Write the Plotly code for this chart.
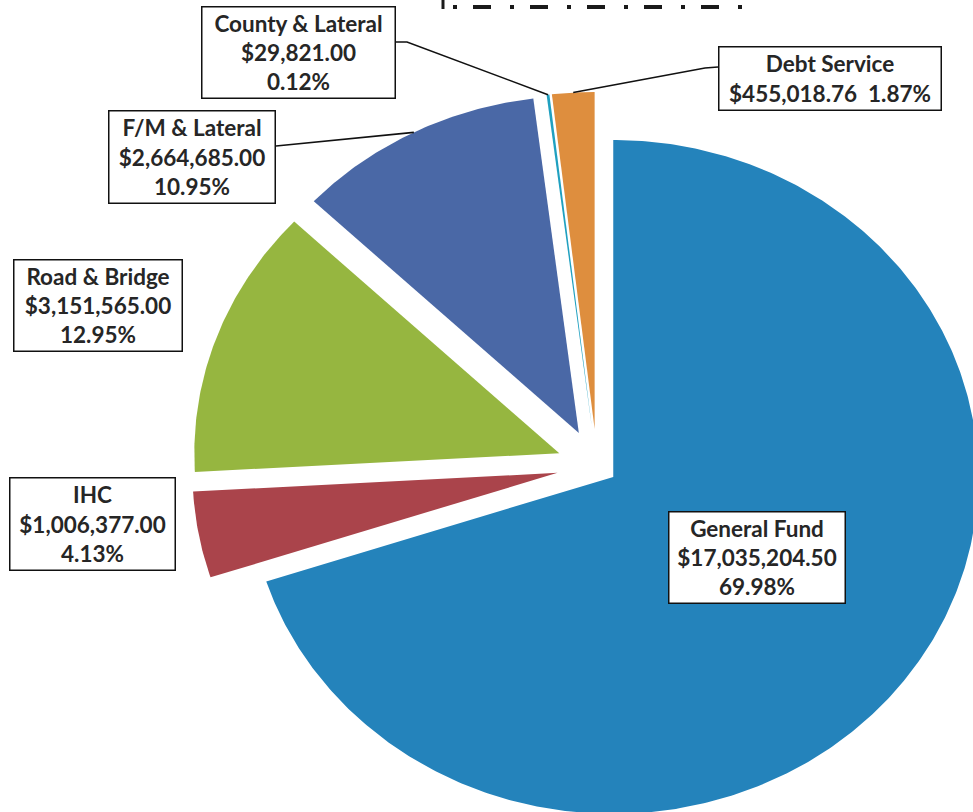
import math
import plotly.graph_objects as go

# ---------------- data ----------------
categories = ["General Fund", "IHC", "Road & Bridge", "F/M & Lateral",
              "County & Lateral", "Debt Service"]
amounts = [17035204.50, 1006377.00, 3151565.00, 2664685.00, 29821.00, 455018.76]

# ---------------- styles / layout ----------------
slice_colors = ["#2483BB", "#AA444B", "#96B640", "#4A68A6", "#1FA0C0", "#DE8E3E"]
pulls = [0.055, 0.11, 0.11, 0.11, 0.11, 0.11]
W, H = 973, 812            # browser window
CX, CY = 597, 466          # pie centre (window px)
RX, RY = 365, 337          # radii (scan is slightly stretched)

# label boxes: centre x, centre y, width, height, leader kind (None = no leader)
label_boxes = {
    "General Fund":     (757, 557.5, 178, 93, None),
    "IHC":              (92.5, 524, 167, 94, None),
    "Road & Bridge":    (98, 305.5, 170, 93, None),
    "F/M & Lateral":    (192, 157, 168, 94, "fm"),
    "County & Lateral": (298.5, 52.5, 195, 93, "county"),
    "Debt Service":     (830, 78.5, 224, 65, "debt"),
}

TEXT_COLOR = "#262626"
FONT = dict(family="Lato, 'Open Sans', sans-serif", size=22.5, color=TEXT_COLOR, weight="bold")

total = sum(amounts)


def pt(theta, r, ox, oy):
    t = math.radians(theta)
    return CX + ox + r * RX * math.sin(t), CY + oy - r * RY * math.cos(t)


fig = go.Figure()
start = 0.0
arc_points = {}
for name, val, col, p in zip(categories, amounts, slice_colors, pulls):
    frac = val / total
    t0, t1 = start * 360, (start + frac) * 360
    mid = (t0 + t1) / 2
    ox = p * RX * math.sin(math.radians(mid))
    oy = -p * RY * math.cos(math.radians(mid))
    n = max(3, int((t1 - t0) * 2) + 2)
    xs, ys = [CX + ox], [CY + oy]
    for i in range(n + 1):
        th = t0 + (t1 - t0) * i / n
        x, y = pt(th, 1.0, ox, oy)
        xs.append(x)
        ys.append(y)
    xs.append(CX + ox)
    ys.append(CY + oy)
    fig.add_trace(go.Scatter(x=xs, y=ys, mode="lines", fill="toself", fillcolor=col,
                             line=dict(width=0, color=col), hoverinfo="text",
                             text=name, showlegend=False))
    arc_points[name] = pt(mid, 1.0, ox, oy)
    start += frac

# leader lines
for name, (bx, by, bw, bh, kind) in label_boxes.items():
    if kind is None:
        continue
    ex, ey = arc_points[name]
    if kind == "county":
        lx = [bx + bw / 2, bx + bw / 2 + 11, ex]
        ly = [by - 10.5, by - 10.5, ey]
    elif kind == "debt":
        lx = [bx - bw / 2, bx - bw / 2 - 13, ex]
        ly = [by - 11.5, by - 10.5, ey]
    else:
        lx = [bx + bw / 2, ex]
        ly = [by - 11, ey]
    fig.add_trace(go.Scatter(x=lx, y=ly, mode="lines",
                             line=dict(color="#111111", width=1.6),
                             hoverinfo="skip", showlegend=False))

# labels
for name, val in zip(categories, amounts):
    bx, by, bw, bh, kind = label_boxes[name]
    money = f"${val:,.2f}"
    pct = f"{val / total * 100:.2f}%"
    if name == "Debt Service":
        txt = f"{name}<br>{money}\u00a0\u00a0{pct}"
    else:
        txt = f"{name}<br>{money}<br>{pct}"
    fig.add_annotation(x=bx, y=by, xref="x", yref="y", text=txt, showarrow=False,
                       font=FONT, align="center", width=bw - 3, height=bh - 3,
                       bgcolor="white", bordercolor="#111111", borderwidth=1.5,
                       borderpad=0, valign="middle")

# scan artefact at top (edge of a dash-dot frame)
fig.add_shape(type="line", x0=453, x1=748, y0=7, y1=7, xref="x", yref="y",
              line=dict(color="#1a1a1a", width=4, dash="4px,16px,18px,19px"))
fig.add_shape(type="line", x0=443, x1=443, y0=0, y1=9, xref="x", yref="y",
              line=dict(color="#1a1a1a", width=3))

fig.update_layout(
    width=W, height=H,
    margin=dict(l=0, r=0, t=0, b=0),
    paper_bgcolor="white", plot_bgcolor="white",
    xaxis=dict(range=[0, W], visible=False, fixedrange=True),
    yaxis=dict(range=[H, 0], visible=False, fixedrange=True),
    showlegend=False,
)

fig.write_html("out.html", config={"displayModeBar": False},
               post_script="document.body.style.margin='0';document.body.style.overflow='hidden';")
